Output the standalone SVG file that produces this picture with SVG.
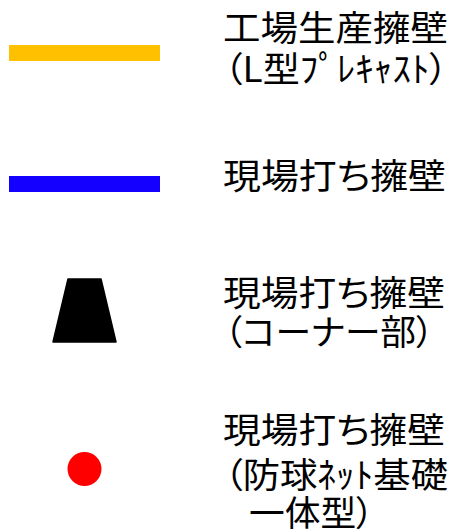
<svg xmlns="http://www.w3.org/2000/svg" width="454" height="532" viewBox="0 0 454 532">
<style>
  text { font-family: "Noto Sans CJK JP", "Noto Sans", sans-serif; font-size: 35px; fill: #000; font-feature-settings: "palt"; }
  .bar { stroke: none; }
</style>
<rect width="454" height="532" fill="#fff"/>
<g id="connectors"></g>
<g id="legend-factory-wall">
  <rect class="bar" x="9" y="45" width="151" height="16" fill="#FFC000"/>
  <text x="223" y="41" textLength="225" lengthAdjust="spacingAndGlyphs">工場生産擁壁</text>
  <text x="224" y="82" textLength="224" lengthAdjust="spacingAndGlyphs">（L型ﾌﾟﾚｷｬｽﾄ）</text>
</g>
<g id="legend-site-wall">
  <rect class="bar" x="9" y="176" width="151" height="16" fill="#1400FF"/>
  <text x="223" y="189" textLength="223" lengthAdjust="spacingAndGlyphs">現場打ち擁壁</text>
</g>
<g id="legend-corner">
  <polygon points="68,279 101,279 116,342 53,342" fill="#000" stroke="#000" stroke-width="1.5" stroke-linejoin="round"/>
  <text x="223" y="306" textLength="222" lengthAdjust="spacingAndGlyphs">現場打ち擁壁</text>
  <text x="224" y="345" textLength="210" lengthAdjust="spacingAndGlyphs">（コーナー部）</text>
</g>
<g id="legend-net-foundation">
  <circle cx="84.5" cy="469" r="17" fill="#FF0000"/>
  <text x="223" y="443" textLength="222" lengthAdjust="spacingAndGlyphs">現場打ち擁壁</text>
  <text x="224" y="488" textLength="224" lengthAdjust="spacingAndGlyphs">（防球ﾈｯﾄ基礎</text>
  <text x="249" y="526" textLength="125" lengthAdjust="spacingAndGlyphs">一体型）</text>
</g>
</svg>
